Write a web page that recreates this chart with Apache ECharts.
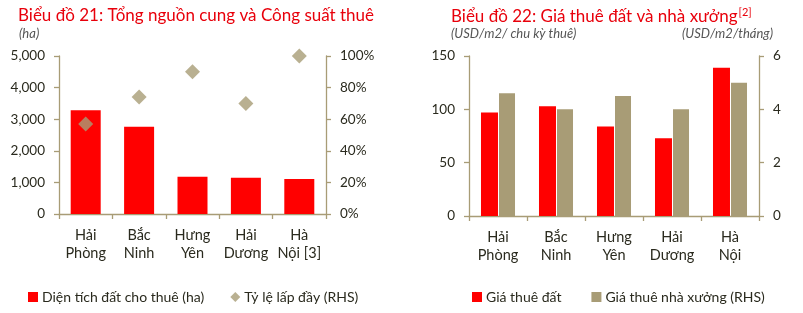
<!DOCTYPE html>
<html>
<head>
<meta charset="utf-8">
<script src="https://cdn.jsdelivr.net/npm/echarts@6/dist/echarts.min.js"></script>
<style>
html,body{margin:0;padding:0;background:#fff;}
#c{width:803px;height:313px;}
</style>
</head>
<body>
<div id="c"></div>
<script>
// Chart 21
const categories1 = ['Hải\nPhòng', 'Bắc\nNinh', 'Hưng\nYên', 'Hải\nDương', 'Hà\nNội [3]'];
const landSupply = [3280, 2760, 1180, 1150, 1110];
const occupancy = [57, 74, 90, 70, 100];
const leftTicks1 = [0, 1000, 2000, 3000, 4000, 5000];
const rightTicks1 = [0, 20, 40, 60, 80, 100];

// Chart 22
const categories2 = ['Hải\nPhòng', 'Bắc\nNinh', 'Hưng\nYên', 'Hải\nDương', 'Hà\nNội'];
const landPrice = [97, 103, 84, 73, 139];
const factoryPrice = [4.6, 4.0, 4.5, 4.0, 5.0];
const leftTicks2 = [0, 50, 100, 150];
const rightTicks2 = [0, 2, 4, 6];

const RED = '#FF0000';
const TAN = '#A89C76';
const TXT = '#2a2a1e';
const FONT = 'Lato';

const chart = echarts.init(document.getElementById('c'), null, {renderer: 'canvas'});

function axisY(min, max, interval, fmt, pos, grid) {
  return {
    type: 'value', gridIndex: grid, position: pos, min: min, max: max, interval: interval,
    axisLine: {show: true, lineStyle: {color: TAN, width: 1.3}},
    axisTick: {show: true, length: 5, lineStyle: {color: TAN, width: 1.3}},
    splitLine: {show: false},
    axisLabel: {color: TXT, fontFamily: FONT, fontSize: 13.5, margin: 14, formatter: fmt}
  };
}
function axisX(cats, grid) {
  return {
    type: 'category', gridIndex: grid, data: cats,
    axisLine: {show: true, lineStyle: {color: TAN, width: 1.3}},
    axisTick: {show: true, length: 5, interval: 0, lineStyle: {color: TAN, width: 1.3}},
    axisLabel: {color: TXT, fontFamily: FONT, fontSize: 14.5, lineHeight: 18, margin: 12, interval: 0, hideOverlap: false}
  };
}

chart.setOption({
  animation: false,
  textStyle: {fontFamily: FONT},
  title: [
    {text: 'Biểu đồ 21: Tổng nguồn cung và Công suất thuê', left: 13, top: 2,
     textStyle: {color: '#E8000B', fontFamily: FONT, fontSize: 17, fontWeight: 'normal'}},
    {text: '(ha)', left: 14, top: 22,
     textStyle: {color: '#555', fontFamily: FONT, fontSize: 13, fontStyle: 'italic', fontWeight: 'normal'}},
    {text: 'Biểu đồ 22: Giá thuê đất và nhà xưởng{s|[2]}', left: 446, top: 2,
     textStyle: {color: '#E8000B', fontFamily: FONT, fontSize: 17, fontWeight: 'normal',
       rich: {s: {color: '#E8000B', fontFamily: FONT, fontSize: 11, verticalAlign: 'top', padding: [0, 0, 8, 1]}}}},
    {text: '(USD/m2/ chu kỳ thuê)', left: 446, top: 22,
     textStyle: {color: '#555', fontFamily: FONT, fontSize: 13, fontStyle: 'italic', fontWeight: 'normal'}},
    {text: '(USD/m2/tháng)', right: 25, top: 22,
     textStyle: {color: '#555', fontFamily: FONT, fontSize: 13, fontStyle: 'italic', fontWeight: 'normal'}}
  ],
  legend: [
    {left: 23, top: 285, itemGap: 26, itemWidth: 10, itemHeight: 10,
     textStyle: {color: TXT, fontFamily: FONT, fontSize: 14, padding: [0, 0, 0, -1]},
     data: [{name: 'Diện tích đất cho thuê (ha)', icon: 'rect'}, {name: 'Tỷ lệ lấp đầy (RHS)', icon: 'diamond'}]},
    {left: 467, top: 285, itemGap: 30, itemWidth: 10, itemHeight: 10,
     textStyle: {color: TXT, fontFamily: FONT, fontSize: 14, padding: [0, 0, 0, -1]},
     data: [{name: 'Giá thuê đất', icon: 'rect'}, {name: 'Giá thuê nhà xưởng (RHS)', icon: 'rect'}]}
  ],
  grid: [
    {left: 59, right: 477, top: 56, bottom: 99, containLabel: false},
    {left: 469, right: 44, top: 56, bottom: 97, containLabel: false}
  ],
  xAxis: [axisX(categories1, 0), axisX(categories2, 1)],
  yAxis: [
    axisY(leftTicks1[0], leftTicks1[leftTicks1.length - 1], leftTicks1[1] - leftTicks1[0],
      v => v.toLocaleString('en-US'), 'left', 0),
    axisY(rightTicks1[0], rightTicks1[rightTicks1.length - 1], rightTicks1[1] - rightTicks1[0],
      v => v + '%', 'right', 0),
    axisY(leftTicks2[0], leftTicks2[leftTicks2.length - 1], leftTicks2[1] - leftTicks2[0],
      v => String(v), 'left', 1),
    axisY(rightTicks2[0], rightTicks2[rightTicks2.length - 1], rightTicks2[1] - rightTicks2[0],
      v => String(v), 'right', 1)
  ],
  series: [
    {name: 'Diện tích đất cho thuê (ha)', type: 'bar', xAxisIndex: 0, yAxisIndex: 0,
     data: landSupply, barWidth: 30, itemStyle: {color: RED}},
    {name: 'Tỷ lệ lấp đầy (RHS)', type: 'scatter', xAxisIndex: 0, yAxisIndex: 1,
     data: occupancy, symbol: 'diamond', symbolSize: 15, itemStyle: {color: TAN}},
    {name: 'Giá thuê đất', type: 'bar', xAxisIndex: 1, yAxisIndex: 2,
     data: landPrice, barWidth: 17, barGap: '6%', itemStyle: {color: RED}},
    {name: 'Giá thuê nhà xưởng (RHS)', type: 'bar', xAxisIndex: 1, yAxisIndex: 3,
     data: factoryPrice, barWidth: 16, barGap: '6%', itemStyle: {color: TAN}}
  ]
});
</script>
</body>
</html>
